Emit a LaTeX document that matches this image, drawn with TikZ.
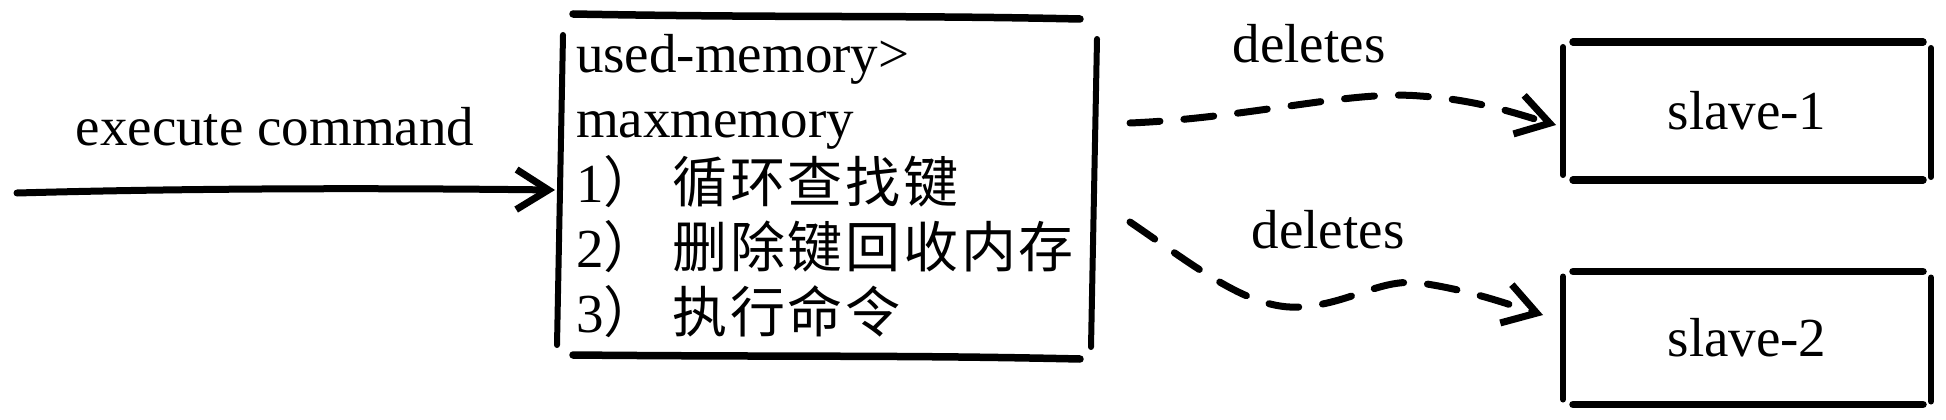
\documentclass[tikz,border=0pt]{standalone}
\usepackage{fontspec}
\setmainfont{Liberation Serif}
\newfontfamily\cjk[LetterSpace=5]{Noto Sans CJK SC}
\usetikzlibrary{arrows.meta,calc}
\begin{document}
\begin{tikzpicture}[x=1pt,y=-1pt,
  every node/.style={font=\fontsize{55}{65}\selectfont},
  holder/.style={inner sep=0pt,outer sep=0pt},
  skh/.style={line width=7.5pt,line cap=round},
  skv/.style={line width=6pt,line cap=round},
  conn/.style={line width=7pt,line cap=round,-{Straight Barb[length=32pt,width=40pt,line width=7pt]}},
  dconn/.style={conn,dash pattern=on 30pt off 24pt}]
\useasboundingbox (0,0) rectangle (1946,420);

% main box
\node[holder,minimum width=538pt,minimum height=342pt,text width=500pt,align=left] (mem) at (826,186)
  {used-memory>\\maxmemory\\1{\cjk）\hspace{14pt}循环查找键}\\2{\cjk）\hspace{14pt}删除键回收内存}\\3{\cjk）\hspace{14pt}执行命令}};
\draw[skh] ([xshift=16pt,yshift=1pt]mem.north west) .. controls +(220,4) and +(-180,-4) .. ([xshift=-15pt,yshift=-4pt]mem.north east);
\draw[skh] ([xshift=16pt,yshift=2pt]mem.south west) .. controls +(220,2) and +(-180,-4) .. ([xshift=-15pt,yshift=-2pt]mem.south east);
\draw[skv] ([xshift=6pt,yshift=-20pt]mem.north west) -- ([xshift=0pt,yshift=12pt]mem.south west);
\draw[skv] ([xshift=2pt,yshift=-24pt]mem.north east) -- ([xshift=-4pt,yshift=10pt]mem.south east);

% slave boxes
\node[holder,minimum width=368pt,minimum height=138pt] (s1) at (1747,111) {slave-1};
\node[holder,minimum width=368pt,minimum height=133pt] (s2) at (1747,338) {slave-2};
\foreach \n in {s1,s2}{
  \draw[skh] ([xshift=10pt]\n.north west) -- ([xshift=-8pt]\n.north east);
  \draw[skh] ([xshift=10pt]\n.south west) -- ([xshift=-8pt]\n.south east);
  \draw[skv] ([yshift=-5pt]\n.north west) -- ([yshift=5pt]\n.south west);
  \draw[skv] ([yshift=-6pt]\n.north east) -- ([yshift=3pt]\n.south east);
}

% input arrow
\coordinate (src) at (17,193);
\node[anchor=base] (lab0) at (275,145) {execute command};
\draw[conn] (src) .. controls (200,188) and (380,188) .. ([xshift=-2pt,yshift=-4pt]mem.west);

% dashed arrows
\node[anchor=base] (lab1) at (1309,63) {deletes};
\node[anchor=base] (lab2) at (1328,248) {deletes};
\draw[dconn] ([xshift=35pt,yshift=63pt]mem.east) .. controls (1250,118) and (1350,90) .. (1420,96)
  .. controls (1480,100) and (1520,115) .. ([xshift=-7pt,yshift=-14pt]s1.west);
\draw[dconn] ([xshift=35pt,yshift=-36pt]mem.east) .. controls (1200,270) and (1250,310) .. (1300,307)
  .. controls (1350,304) and (1380,278) .. (1420,283)
  .. controls (1470,290) and (1510,305) .. ([xshift=-20pt,yshift=23pt]s2.west);
\end{tikzpicture}
\end{document}
